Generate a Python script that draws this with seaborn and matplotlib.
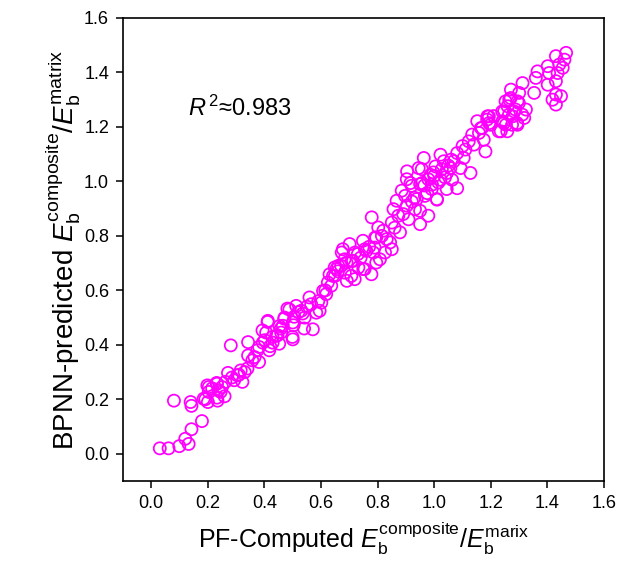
import matplotlib
matplotlib.use("Agg")
import matplotlib.pyplot as plt
import seaborn as sns
import pandas as pd

# PF-computed vs BPNN-predicted normalised energy
pf_computed = [
    0.030, 0.061, 0.099, 0.132, 0.120, 0.142, 0.179, 0.080, 0.139, 0.142, 0.191, 0.200,
    0.203, 0.203, 0.232, 0.232, 0.262, 0.259, 0.238, 0.185, 0.234,
    0.198, 0.231, 0.245, 0.271, 0.281, 0.293, 0.304, 0.316, 0.322, 0.340, 0.342, 0.342,
    0.357, 0.375, 0.381, 0.381, 0.393, 0.401, 0.411, 0.417, 0.428, 0.446, 0.452, 0.458,
    0.470, 0.481, 0.499, 0.503, 0.505, 0.535, 0.540,
    0.394, 0.406, 0.412, 0.429, 0.441, 0.453, 0.459, 0.471, 0.488, 0.500, 0.500, 0.512,
    0.530, 0.542, 0.559, 0.565, 0.571, 0.583, 0.595, 0.601, 0.607, 0.618, 0.624, 0.630,
    0.636, 0.642, 0.648, 0.654, 0.671, 0.677, 0.683, 0.691, 0.701, 0.707, 0.713, 0.719,
    0.730, 0.748, 0.754, 0.760, 0.778, 0.789, 0.795, 0.795,
    0.649, 0.661, 0.673, 0.684, 0.690, 0.708, 0.720, 0.732, 0.749, 0.755, 0.779, 0.785,
    0.791, 0.802, 0.808, 0.820, 0.826, 0.832, 0.844, 0.850, 0.850, 0.856, 0.867, 0.873,
    0.879, 0.885, 0.897, 0.903, 0.903, 0.909, 0.920, 0.932, 0.938, 0.950, 0.950, 0.950,
    0.956, 0.967, 0.979, 0.979, 0.991, 0.997, 1.009, 1.015, 1.027, 1.038, 1.044, 1.050,
    0.904, 0.916, 0.921, 0.945, 0.957, 0.963, 0.975, 0.987, 0.992, 1.004, 1.010, 1.022,
    1.022, 1.034, 1.045, 1.057, 1.063, 1.069, 1.081, 1.081, 1.093, 1.104, 1.110, 1.122,
    1.128, 1.134, 1.140, 1.152, 1.158, 1.169, 1.175, 1.181, 1.187, 1.193, 1.199, 1.228,
    1.240, 1.246, 1.252, 1.258, 1.264, 1.270, 1.275, 1.287, 1.293, 1.299, 1.311,
    1.165, 1.188, 1.194, 1.235, 1.241, 1.247, 1.253, 1.259, 1.265, 1.271, 1.277, 1.282,
    1.294, 1.294, 1.300, 1.312, 1.318, 1.324, 1.353, 1.359, 1.365, 1.401, 1.401, 1.406,
    1.418, 1.430, 1.430, 1.430, 1.436, 1.430, 1.442, 1.448, 1.454, 1.460, 1.466,
    # extra points inside the densest clusters
    0.215, 0.250, 0.285, 0.310, 0.330, 0.365, 0.420, 0.465, 0.520, 0.550, 0.590, 0.615,
    0.660, 0.740, 0.770, 0.815, 0.860, 0.890, 0.930, 0.965, 1.000, 1.060, 1.100, 1.210,
]
bpnn_predicted = [
    0.020, 0.020, 0.028, 0.036, 0.055, 0.090, 0.120, 0.195, 0.190, 0.176, 0.200, 0.190,
    0.245, 0.227, 0.257, 0.206, 0.264, 0.211, 0.233, 0.202, 0.195,
    0.251, 0.260, 0.227, 0.297, 0.398, 0.270, 0.288, 0.306, 0.264, 0.313, 0.361, 0.410,
    0.343, 0.380, 0.337, 0.392, 0.453, 0.417, 0.484, 0.380, 0.429, 0.435, 0.404, 0.460,
    0.496, 0.533, 0.429, 0.472, 0.503, 0.515, 0.460,
    0.408, 0.445, 0.488, 0.408, 0.433, 0.469, 0.445, 0.500, 0.530, 0.482, 0.420, 0.543,
    0.525, 0.500, 0.574, 0.549, 0.457, 0.518, 0.525, 0.555, 0.598, 0.586, 0.629, 0.659,
    0.617, 0.653, 0.684, 0.678, 0.690, 0.751, 0.714, 0.635, 0.770, 0.653, 0.708, 0.641,
    0.733, 0.782, 0.678, 0.745, 0.659, 0.757, 0.702, 0.794,
    0.653, 0.690, 0.739, 0.665, 0.702, 0.708, 0.739, 0.684, 0.678, 0.751, 0.868, 0.739,
    0.794, 0.831, 0.714, 0.819, 0.739, 0.788, 0.776, 0.849, 0.751, 0.898, 0.929, 0.874,
    0.813, 0.966, 0.947, 0.911, 1.008, 0.861, 0.984, 0.898, 0.935, 0.843, 0.892, 0.990,
    1.045, 0.947, 0.874, 1.008, 0.972, 1.033, 0.935, 0.996, 1.045, 1.015, 0.972, 1.058,
    1.037, 0.994, 0.926, 1.049, 0.994, 1.086, 0.957, 1.024, 0.988, 1.055, 0.933, 1.098,
    1.006, 1.074, 1.031, 1.049, 1.006, 1.074, 1.104, 0.975, 1.049, 1.086, 1.117, 1.147,
    1.031, 1.172, 1.135, 1.221, 1.178, 1.196, 1.153, 1.110, 1.227, 1.239, 1.208, 1.184,
    1.257, 1.214, 1.294, 1.184, 1.245, 1.306, 1.208, 1.264, 1.214, 1.288, 1.245,
    1.196, 1.239, 1.214, 1.184, 1.221, 1.257, 1.208, 1.276, 1.300, 1.337, 1.239, 1.257,
    1.208, 1.294, 1.325, 1.361, 1.233, 1.264, 1.325, 1.380, 1.404, 1.355, 1.423, 1.398,
    1.300, 1.319, 1.282, 1.368, 1.398, 1.460, 1.429, 1.313, 1.417, 1.447, 1.472,
    0.240, 0.245, 0.280, 0.290, 0.300, 0.355, 0.395, 0.470, 0.520, 0.540, 0.560, 0.600,
    0.670, 0.720, 0.760, 0.800, 0.830, 0.880, 0.940, 0.985, 1.020, 1.080, 1.130, 1.240,
]

ticks = [0.0, 0.2, 0.4, 0.6, 0.8, 1.0, 1.2, 1.4, 1.6]
r2_text = r"$\mathit{R}^{\,2}$≈0.983"

df = pd.DataFrame({"pf": pf_computed, "bpnn": bpnn_predicted})

sns.set_style("ticks")
plt.rcParams["font.family"] = ["Liberation Sans", "DejaVu Sans"]
plt.rcParams["mathtext.fontset"] = "custom"
plt.rcParams["mathtext.rm"] = "Liberation Sans"
plt.rcParams["mathtext.it"] = "Liberation Sans:italic"
plt.rcParams["text.color"] = "black"
plt.rcParams["axes.labelcolor"] = "black"

fig = plt.figure(figsize=(6.19, 5.71), dpi=100)
ax = fig.add_axes([0.1987, 0.1576, 0.9758 - 0.1987, 0.9685 - 0.1576])

sns.scatterplot(data=df, x="pf", y="bpnn", ax=ax, marker="o", s=76,
                linewidth=1.25, legend=False)
pts = ax.collections[0]
pts.set_facecolor("none")
pts.set_edgecolor("#ff00ff")

ax.set_xlim(-0.1, 1.6)
ax.set_ylim(-0.1, 1.6)
ax.set_xticks(ticks)
ax.set_yticks(ticks)
ax.set_xticklabels([f"{t:.1f}" for t in ticks])
ax.set_yticklabels([f"{t:.1f}" for t in ticks])
ax.tick_params(axis="both", direction="out", length=5, width=1.1, labelsize=13,
               top=False, right=False, colors="black", pad=5)
for sp in ax.spines.values():
    sp.set_visible(True)
    sp.set_linewidth(1.2)
    sp.set_color("black")

ax.set_xlabel(r"PF-Computed $\mathit{E}_\mathrm{b}^\mathrm{composite}/\mathit{E}_\mathrm{b}^\mathrm{marix}$",
              fontsize=18, labelpad=6, color="black")
ax.set_ylabel(r"BPNN-predicted $\mathit{E}_\mathrm{b}^\mathrm{composite}/\mathit{E}_\mathrm{b}^\mathrm{matrix}$",
              fontsize=20, labelpad=1, color="black")

ax.text(0.13, 1.27, r2_text, fontsize=17, ha="left", va="center", color="black")

fig.savefig("out.png", dpi=100)
